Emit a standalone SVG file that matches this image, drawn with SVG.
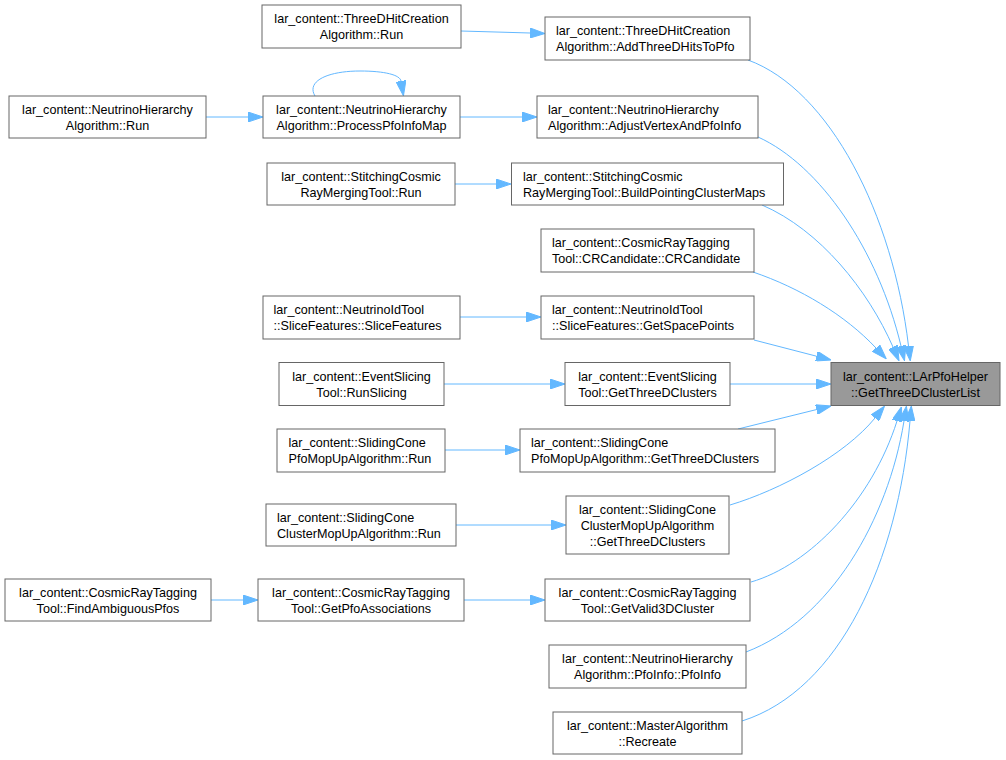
<svg xmlns="http://www.w3.org/2000/svg" width="1006" height="760" viewBox="0 0 1006 760">
<style>
.bg{fill:#ffffff}
.node rect{fill:#ffffff;stroke:#666666;stroke-width:1}
.node.target rect{fill:#999999;stroke:#666666}
.node text{font-family:"Liberation Sans",Arial,sans-serif;font-size:12.6px;fill:#000000}
.c{text-anchor:middle}
.l{text-anchor:start}
.edges path{fill:none;stroke:#63b8ff;stroke-width:1}
</style>
<defs>
<marker id="ah" markerUnits="userSpaceOnUse" viewBox="0 -5 15 10" markerWidth="15" markerHeight="10" refX="0" refY="0" orient="auto">
<path d="M0,-5 L15,0 L0,5 z" fill="#63b8ff" stroke="#63b8ff" stroke-width="1"/>
</marker>
</defs>
<rect class="bg" x="0" y="0" width="1006" height="760"/>

<g id="edges" class="edges">
<path marker-end="url(#ah)" d="M461,31 L530,33"/>
<path marker-end="url(#ah)" d="M315,96 C306,81 328,71 360,71 C385,71 400,75 401,81"/>
<path marker-end="url(#ah)" d="M206,117 L248,117"/>
<path marker-end="url(#ah)" d="M460,117 L522,117"/>
<path marker-end="url(#ah)" d="M455,184 L496,184"/>
<path marker-end="url(#ah)" d="M460,317 L526,317"/>
<path marker-end="url(#ah)" d="M444,384 L550,384"/>
<path marker-end="url(#ah)" d="M445,450 L505,450"/>
<path marker-end="url(#ah)" d="M456,525 L551,525"/>
<path marker-end="url(#ah)" d="M211,600 L243,600"/>
<path marker-end="url(#ah)" d="M464,600 L530,600"/>
<path marker-end="url(#ah)" d="M748,60 C830,90 893,215 908.5,346"/>
<path marker-end="url(#ah)" d="M758,137 C820,165 878,250 901,346"/>
<path marker-end="url(#ah)" d="M762,205 C820,230 868,290 893,347"/>
<path marker-end="url(#ah)" d="M753,272 C800,288 845,315 876,348"/>
<path marker-end="url(#ah)" d="M754,340 L816.5,356.2"/>
<path marker-end="url(#ah)" d="M730,384 L816,384"/>
<path marker-end="url(#ah)" d="M738,429 L816.4,409.6"/>
<path marker-end="url(#ah)" d="M730,505 C780,490 845,455 875,418"/>
<path marker-end="url(#ah)" d="M751,582 C810,565 872,500 897,421"/>
<path marker-end="url(#ah)" d="M746,652 C830,620 888,520 904,421"/>
<path marker-end="url(#ah)" d="M742,721 C840,690 898,560 910,421"/>
</g>

<g id="node-target" class="node target">
<rect x="831" y="362.5" width="169" height="43"/>
<text class="c" x="915.5" y="380.5">lar_content::LArPfoHelper</text>
<text class="c" x="915.5" y="396.5">::GetThreeDClusterList</text>
</g>

<g id="node-n1" class="node">
<rect x="545" y="17" width="205" height="43"/>
<text class="l" x="556" y="35">lar_content::ThreeDHitCreation</text>
<text class="l" x="556" y="51">Algorithm::AddThreeDHitsToPfo</text>
</g>
<g id="node-n2" class="node">
<rect x="537" y="96" width="221" height="42"/>
<text class="l" x="548" y="114">lar_content::NeutrinoHierarchy</text>
<text class="l" x="548" y="130">Algorithm::AdjustVertexAndPfoInfo</text>
</g>
<g id="node-n3" class="node">
<rect x="511.5" y="163" width="272" height="42"/>
<text class="l" x="523" y="181">lar_content::StitchingCosmic</text>
<text class="l" x="523" y="197">RayMergingTool::BuildPointingClusterMaps</text>
</g>
<g id="node-n4" class="node">
<rect x="541" y="229" width="213" height="43"/>
<text class="l" x="552" y="247">lar_content::CosmicRayTagging</text>
<text class="l" x="552" y="263">Tool::CRCandidate::CRCandidate</text>
</g>
<g id="node-n5" class="node">
<rect x="541" y="296" width="213" height="43"/>
<text class="l" x="552" y="314">lar_content::NeutrinoIdTool</text>
<text class="l" x="552" y="330">::SliceFeatures::GetSpacePoints</text>
</g>
<g id="node-n6" class="node">
<rect x="565" y="362.5" width="165" height="43"/>
<text class="c" x="647.5" y="380.5">lar_content::EventSlicing</text>
<text class="c" x="647.5" y="396.5">Tool::GetThreeDClusters</text>
</g>
<g id="node-n7" class="node">
<rect x="520" y="429" width="255" height="43"/>
<text class="l" x="531" y="447">lar_content::SlidingCone</text>
<text class="l" x="531" y="463">PfoMopUpAlgorithm::GetThreeDClusters</text>
</g>
<g id="node-n8" class="node">
<rect x="566" y="496" width="163" height="58"/>
<text class="c" x="647.5" y="514">lar_content::SlidingCone</text>
<text class="c" x="647.5" y="530">ClusterMopUpAlgorithm</text>
<text class="c" x="647.5" y="545.5">::GetThreeDClusters</text>
</g>
<g id="node-n9" class="node">
<rect x="545" y="579" width="205" height="42"/>
<text class="c" x="647.5" y="597">lar_content::CosmicRayTagging</text>
<text class="c" x="647.5" y="613">Tool::GetValid3DCluster</text>
</g>
<g id="node-n10" class="node">
<rect x="549" y="645" width="197" height="43"/>
<text class="c" x="647.5" y="663">lar_content::NeutrinoHierarchy</text>
<text class="c" x="647.5" y="679">Algorithm::PfoInfo::PfoInfo</text>
</g>
<g id="node-n11" class="node">
<rect x="553" y="712" width="189" height="42"/>
<text class="c" x="647.5" y="730">lar_content::MasterAlgorithm</text>
<text class="c" x="647.5" y="746">::Recreate</text>
</g>

<g id="node-a" class="node">
<rect x="262" y="5" width="199" height="43"/>
<text class="c" x="361.5" y="23">lar_content::ThreeDHitCreation</text>
<text class="c" x="361.5" y="39">Algorithm::Run</text>
</g>
<g id="node-b" class="node">
<rect x="263" y="96" width="197" height="42"/>
<text class="c" x="361.5" y="114">lar_content::NeutrinoHierarchy</text>
<text class="c" x="361.5" y="130">Algorithm::ProcessPfoInfoMap</text>
</g>
<g id="node-c" class="node">
<rect x="267" y="163" width="188" height="42"/>
<text class="c" x="361" y="181">lar_content::StitchingCosmic</text>
<text class="c" x="361" y="197">RayMergingTool::Run</text>
</g>
<g id="node-d" class="node">
<rect x="263" y="296" width="197" height="43"/>
<text class="l" x="273.5" y="314">lar_content::NeutrinoIdTool</text>
<text class="l" x="273.5" y="330">::SliceFeatures::SliceFeatures</text>
</g>
<g id="node-e" class="node">
<rect x="279" y="362.5" width="165" height="43"/>
<text class="c" x="361.5" y="380.5">lar_content::EventSlicing</text>
<text class="c" x="361.5" y="396.5">Tool::RunSlicing</text>
</g>
<g id="node-f" class="node">
<rect x="277" y="429" width="168" height="43"/>
<text class="l" x="288.5" y="447">lar_content::SlidingCone</text>
<text class="l" x="288.5" y="463">PfoMopUpAlgorithm::Run</text>
</g>
<g id="node-g" class="node">
<rect x="266" y="504" width="190" height="42"/>
<text class="l" x="277" y="522">lar_content::SlidingCone</text>
<text class="l" x="277" y="538">ClusterMopUpAlgorithm::Run</text>
</g>
<g id="node-h" class="node">
<rect x="258" y="579" width="206" height="42"/>
<text class="c" x="361" y="597">lar_content::CosmicRayTagging</text>
<text class="c" x="361" y="613">Tool::GetPfoAssociations</text>
</g>
<g id="node-i" class="node">
<rect x="9" y="96" width="197" height="42"/>
<text class="c" x="107.5" y="114">lar_content::NeutrinoHierarchy</text>
<text class="c" x="107.5" y="130">Algorithm::Run</text>
</g>
<g id="node-j" class="node">
<rect x="5" y="579" width="206" height="42"/>
<text class="c" x="108" y="597">lar_content::CosmicRayTagging</text>
<text class="c" x="108" y="613">Tool::FindAmbiguousPfos</text>
</g>
</svg>
